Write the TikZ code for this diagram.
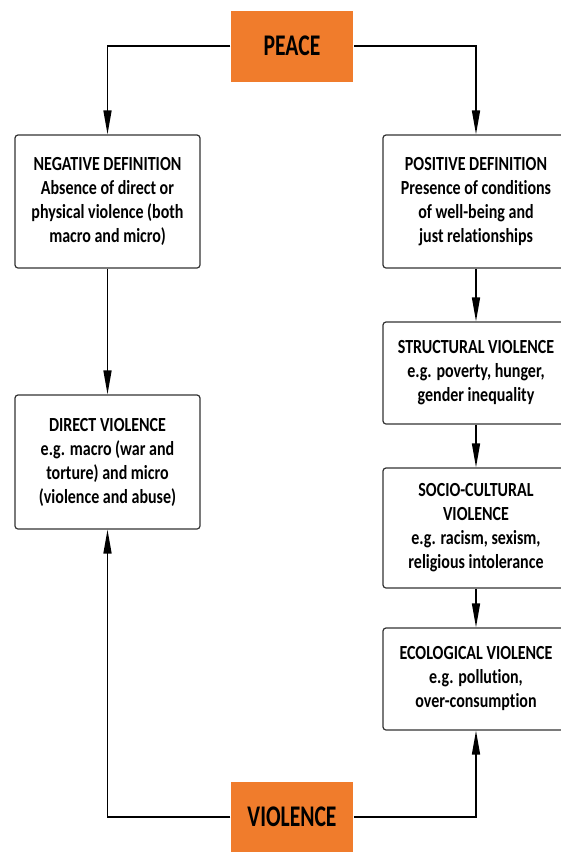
\documentclass[tikz,border=0pt]{standalone}
\usepackage{fontspec}
\setmainfont{Carlito}[FakeStretch=0.8, Ligatures=NoCommon]
\newfontfamily\polefont{Carlito}[FakeStretch=0.72]
\usepackage{tikz}
\usetikzlibrary{arrows.meta,positioning,calc}
\definecolor{peaceorange}{RGB}{240,124,44}

\begin{document}
\begin{tikzpicture}[x=1pt, y=-1pt, ->, >={Triangle[length=24pt,width=8pt]}, line width=1.5pt]
\tikzstyle{box}=[draw=black!80, line width=1.2pt, rounded corners=3pt, fill=white, align=center, inner sep=0pt, font=\bfseries\fontsize{20}{24}\selectfont]
\tikzstyle{pole}=[fill=peaceorange, minimum width=122pt, minimum height=71pt, inner sep=0pt, font=\polefont\bfseries\fontsize{30}{32}\selectfont]
\useasboundingbox (0,0) rectangle (561,852);
\clip (0,0) rectangle (561,852);

\node[pole]    (p)   at (292,46)     {PEACE};
\node[pole]    (v)   at (292,817)    {VIOLENCE};
\node[box, minimum width=185pt, minimum height=133pt] (neg) at (107.5,201.5)
  {NEGATIVE DEFINITION\\Absence of direct or\\physical violence (both\\macro and micro)};
\node[box, minimum width=185pt, minimum height=134pt] (dir) at (107.5,462)
  {DIRECT VIOLENCE\\e.g. macro (war and\\torture) and micro\\(violence and abuse)};
\node[box, minimum width=186pt, minimum height=133pt] (pos) at (476,201.5)
  {POSITIVE DEFINITION\\Presence of conditions\\of well-being and\\just relationships};
\node[box, minimum width=186pt, minimum height=102pt] (str) at (476,373)
  {STRUCTURAL VIOLENCE\\e.g. poverty, hunger,\\gender inequality};
\node[box, minimum width=186pt, minimum height=120pt] (soc) at (476,528)
  {SOCIO-CULTURAL\\VIOLENCE\\e.g. racism, sexism,\\religious intolerance};
\node[box, minimum width=186pt, minimum height=102pt] (eco) at (476,679)
  {ECOLOGICAL VIOLENCE\\e.g. pollution,\\over-consumption};

\draw (p.west) -| (neg.north);
\draw (p.east) -| (pos.north);
\draw (neg) -- (dir);
\draw (pos) -- (str);
\draw (str) -- (soc);
\draw (soc) -- (eco);
\draw (v.west) -| (dir.south);
\draw (v.east) -| (eco.south);

\end{tikzpicture}
\end{document}
